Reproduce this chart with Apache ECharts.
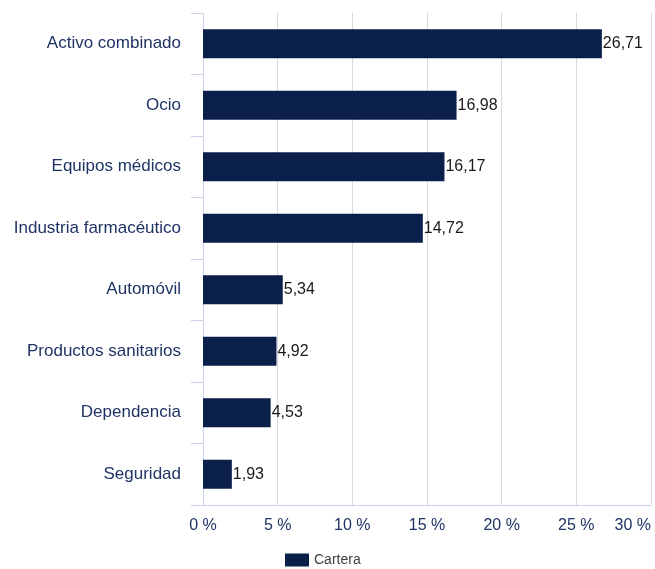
<!DOCTYPE html>
<html>
<head>
<meta charset="utf-8">
<script src="https://cdn.jsdelivr.net/npm/echarts@6/dist/echarts.min.js"></script>
<style>
  html, body { margin: 0; padding: 0; background: #fff; }
  #main { width: 655px; height: 569px; }
</style>
</head>
<body>
<div id="main"></div>
<script>
// categories top to bottom
var categories = ['Activo combinado', 'Ocio', 'Equipos médicos', 'Industria farmacéutico',
                  'Automóvil', 'Productos sanitarios', 'Dependencia', 'Seguridad'];
var cartera = [26.71, 16.98, 16.17, 14.72, 5.34, 4.92, 4.53, 1.93];

var myChart = echarts.init(document.getElementById('main'));

var option = {
    animation: false,
    textStyle: { fontFamily: 'Liberation Sans, Arial, sans-serif' },
    grid: { left: 203, right: 4, top: 13, bottom: 64, containLabel: false },
    legend: {
        top: 548,
        left: 280,
        icon: 'rect',
        itemWidth: 24,
        itemHeight: 13,
        itemGap: 7,
        textStyle: { color: '#404040', fontSize: 14 },
        data: ['Cartera']
    },
    xAxis: {
        type: 'value',
        min: 0,
        max: 30,
        interval: 5,
        axisLine: { show: true, lineStyle: { color: '#c9d3e6' } },
        axisTick: { show: false },
        splitLine: { show: true, lineStyle: { color: '#d9d9d9' } },
        axisLabel: {
            color: '#1f3464',
            fontSize: 16,
            margin: 13,
            formatter: function (v) { return v + ' %'; },
            alignMaxLabel: 'right'
        }
    },
    yAxis: {
        type: 'category',
        inverse: true,
        data: categories,
        axisLine: { show: true, lineStyle: { color: '#c9d3e6' } },
        axisTick: { show: true, length: 12, lineStyle: { color: '#c9d3e6' } },
        axisLabel: { color: '#1f3464', fontSize: 17, margin: 22 }
    },
    series: [{
        name: 'Cartera',
        type: 'bar',
        data: cartera,
        barWidth: 29,
        itemStyle: { color: '#0b1f4b' },
        label: {
            show: true,
            position: 'right',
            distance: 1,
            color: '#1a1a1a',
            fontSize: 16,
            formatter: function (p) { return p.value.toFixed(2).replace('.', ','); }
        }
    }]
};

myChart.setOption(option);
</script>
</body>
</html>
